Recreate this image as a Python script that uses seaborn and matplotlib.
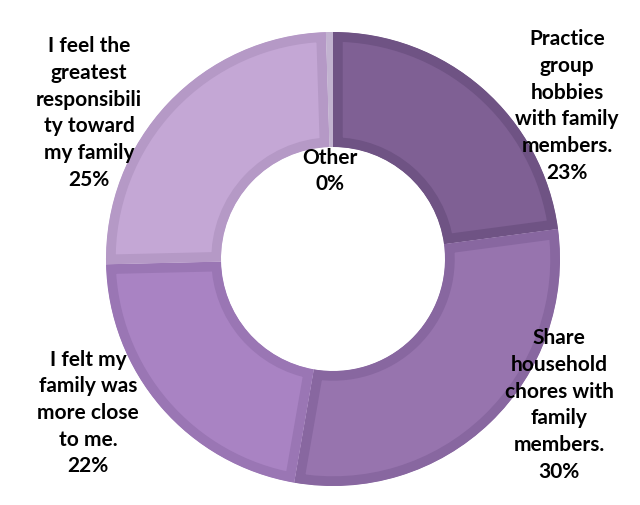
import matplotlib.pyplot as plt
import seaborn as sns

sns.set_theme(style="white")
plt.rcParams['font.family'] = ['Lato', 'DejaVu Sans']

categories = [
    "Practice\ngroup\nhobbies\nwith family\nmembers.",
    "Share\nhousehold\nchores with\nfamily\nmembers.",
    "I felt my\nfamily was\nmore close\nto me.",
    "I feel the\ngreatest\nresponsibili\nty toward\nmy family",
    "Other",
]
values = [23, 30, 22, 25, 0.5]
fill_colors = ["#7f6094", "#9774ae", "#a983c3", "#c4a7d5", "#cbbcd9"]
edge_colors = ["#6f5384", "#8867a0", "#9a76b4", "#b599c6", "#c2b3d0"]

# label anchor points in pixel space (y measured from top)
label_pos = [(567, 106), (559, 405), (88, 413), (89, 113), (330, 171)]

W, H = 640, 506
fig = plt.figure(figsize=(W / 100, H / 100), dpi=100)
ax = fig.add_axes([0, 0, 1, 1])

outer = 227
wedges, _ = ax.pie(values, colors=fill_colors, startangle=90, counterclock=False,
                   radius=outer, center=(333, H - 260),
                   wedgeprops=dict(width=outer - 112))
ax.set_xlim(0, W)
ax.set_ylim(0, H)
ax.set_aspect("equal")
ax.axis("off")

# darker inner rim on each slice (stroke clipped to the slice itself)
for w, ec in zip(wedges, edge_colors):
    w.set_edgecolor(ec)
    w.set_linewidth(14)
    w.set_clip_path(w)
    w.set_clip_on(True)

total = sum(values)
for cat, v, (x, y) in zip(categories, values, label_pos):
    pct = round(v / total * 100)
    ax.text(x, H - y, f"{cat}\n{pct}%", ha="center", va="center",
            fontsize=15, fontweight="bold", color="black", linespacing=1.42)

fig.savefig("out.png", dpi=100)
